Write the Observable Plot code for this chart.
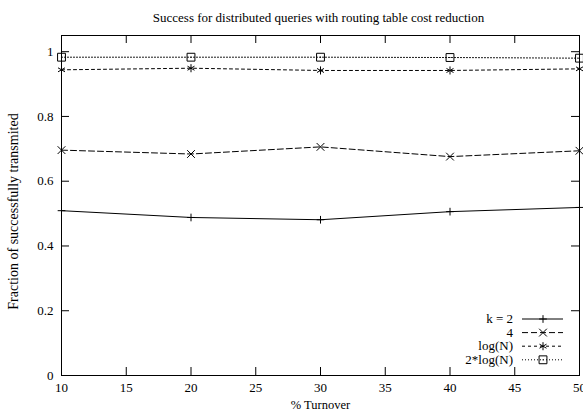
<!DOCTYPE html>
<html>
<head>
<meta charset="utf-8">
<script src="https://cdn.jsdelivr.net/npm/d3@7"></script>
<script src="https://cdn.jsdelivr.net/npm/@observablehq/plot@0.6"></script>
<style>
  html, body { margin: 0; padding: 0; background: #fff; }
  #wrap { position: relative; width: 583px; height: 417px; }
  #wrap svg { position: absolute; left: 0; top: 0; }
</style>
</head>
<body>
<div id="wrap"></div>
<script>
// ---- data ----
const turnover = [10, 20, 30, 40, 50];
const seriesNames = ["k = 2", "4", "log(N)", "2*log(N)"];
const k2      = [0.509, 0.488, 0.481, 0.506, 0.519];
const k4      = [0.696, 0.684, 0.706, 0.676, 0.694];
const logN    = [0.944, 0.949, 0.942, 0.942, 0.947];
const twoLogN = [0.983, 0.983, 0.983, 0.982, 0.980];
const xTicks = [10, 15, 20, 25, 30, 35, 40, 45, 50];
const yTicks = [0, 0.2, 0.4, 0.6, 0.8, 1];
const titleText = "Success for distributed queries with routing table cost reduction";
const xLabel = "% Turnover";
const yLabel = "Fraction of successfully transmited";

// ---- styling ----
const W = 583, H = 417;
const mL = 61, mR = 4, mT = 35, mB = 42;
const innerW = W - mL - mR, innerH = H - mT - mB;
const font = "'Liberation Serif', 'Times New Roman', 'DejaVu Serif', serif";
const styles = [
  {symbol: "plus",     r: 2.6, dash: null},
  {symbol: "times",    r: 3.6, dash: "6,3"},
  {symbol: "asterisk", r: 3.8, dash: "3,3"},
  {symbol: "square2",  r: 5.0, dash: "1,2"}
];
const allVals = [k2, k4, logN, twoLogN];
const rows = [];
allVals.forEach((vals, si) => vals.forEach((v, i) => rows.push({series: seriesNames[si], s: si, x: turnover[i], y: v})));

const marks = [];
seriesNames.forEach((name, si) => {
  const d = rows.filter(r => r.s === si);
  marks.push(Plot.line(d, {x: "x", y: "y", stroke: "black", strokeWidth: 1, strokeDasharray: styles[si].dash}));
  marks.push(Plot.dot(d, {x: "x", y: "y", symbol: () => styles[si].symbol, r: styles[si].r, stroke: "black", strokeWidth: 1, fill: "none"}));
});
// center dot of the 2*log(N) squares
marks.push(Plot.dot(rows.filter(r => r.s === 3), {x: "x", y: "y", r: 0.6, fill: "black", stroke: "none"}));

const chart = Plot.plot({
  width: W, height: H,
  marginLeft: mL, marginRight: mR, marginTop: mT, marginBottom: mB,
  style: {fontFamily: font, fontSize: "13px", background: "white", color: "black"},
  x: {domain: [10, 50], ticks: xTicks},
  y: {domain: [0, 1.05], ticks: yTicks},
  marks: [
    Plot.frame({stroke: "black", strokeWidth: 1}),
    // inward ticks, all four sides
    Plot.tickX(xTicks, {x: d => d, insetTop: innerH - 8, stroke: "black"}),
    Plot.tickX(xTicks, {x: d => d, insetBottom: innerH - 8, stroke: "black"}),
    Plot.tickY(yTicks, {y: d => d, insetRight: innerW - 8, stroke: "black"}),
    Plot.tickY(yTicks, {y: d => d, insetLeft: innerW - 8, stroke: "black"}),
    Plot.axisX(xTicks, {tickSize: 0, tickPadding: 7, label: null, fontSize: 13, fontFamily: font}),
    Plot.axisY(yTicks, {tickSize: 0, tickPadding: 8, label: null, fontSize: 13, fontFamily: font, tickFormat: d => String(d)}),
    Plot.text([titleText], {text: d => d, frameAnchor: "top", dy: -22.5, fontSize: 13, fontFamily: font, textAnchor: "middle", dx: -2}),
    Plot.text([xLabel], {text: d => d, frameAnchor: "bottom", dy: 33, fontSize: 12.5, fontFamily: font, textAnchor: "middle"}),
    Plot.text([yLabel], {text: d => d, frameAnchor: "left", dx: -48, dy: 6, rotate: -90, fontSize: 14, fontFamily: font, textAnchor: "middle"}),
    ...marks
  ]
});
document.getElementById("wrap").appendChild(chart);

// ---- legend overlay ----
const leg = d3.select("#wrap").append("svg").attr("width", W).attr("height", H)
  .style("pointer-events", "none").attr("font-family", font).attr("font-size", 13);
const symMap = {plus: d3.symbolPlus, times: d3.symbolTimes, asterisk: d3.symbolAsterisk, square2: d3.symbolSquare2};
const rowY0 = 319, rowStep = 13.6;
seriesNames.forEach((name, i) => {
  const y = rowY0 + i * rowStep;
  leg.append("text").attr("x", 513).attr("y", y).attr("text-anchor", "end").attr("dy", "0.32em").text(name);
  leg.append("line").attr("x1", 522).attr("x2", 563).attr("y1", y).attr("y2", y)
    .attr("stroke", "black").attr("stroke-width", 1).attr("stroke-dasharray", styles[i].dash);
  leg.append("path").attr("transform", `translate(543,${y})`)
    .attr("d", d3.symbol(symMap[styles[i].symbol], Math.PI * styles[i].r * styles[i].r)())
    .attr("fill", "none").attr("stroke", "black").attr("stroke-width", 1);
  if (i === 3) leg.append("circle").attr("cx", 543).attr("cy", y).attr("r", 0.6).attr("fill", "black");
});
</script>
</body>
</html>
